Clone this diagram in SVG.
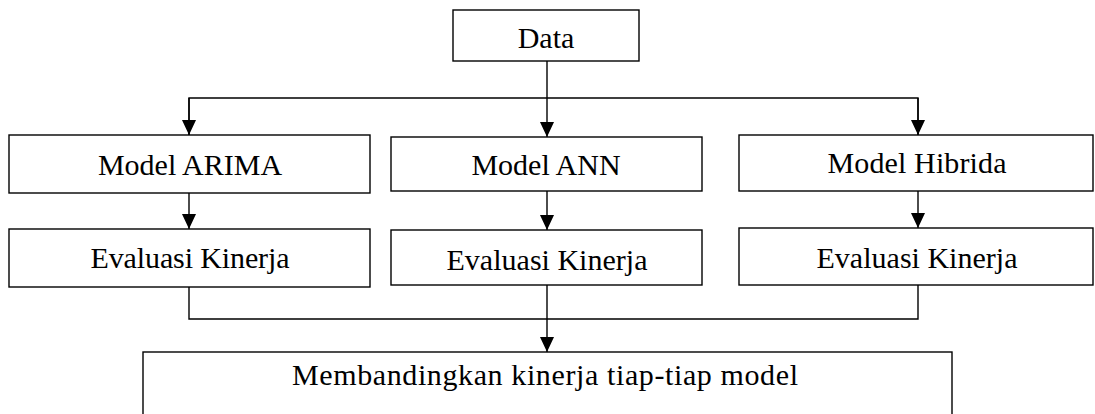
<svg xmlns="http://www.w3.org/2000/svg" width="1095" height="414" viewBox="0 0 1095 414">
  <style>
    .box { fill: #ffffff; stroke: #000000; stroke-width: 1.4; }
    .lbl { font-family: "Liberation Serif", "DejaVu Serif", serif; font-size: 30px; fill: #000000; text-anchor: middle; }
    .wire { fill: none; stroke: #000000; stroke-width: 1.4; }
  </style>
  <defs>
    <marker id="arrow" markerUnits="userSpaceOnUse" markerWidth="16" markerHeight="16" refX="15" refY="7" orient="auto">
      <path d="M0,0 L15,7 L0,14 Z" fill="#000000"/>
    </marker>
  </defs>

  <rect width="1095" height="414" fill="#ffffff"/>

  <!-- connectors -->
  <g id="connectors">
    <line class="wire" x1="547" y1="61" x2="547" y2="137" marker-end="url(#arrow)"/>
    <polyline class="wire" points="189,135 189,98 918,98 918,135"/>
    <line class="wire" x1="189" y1="98" x2="189" y2="135" marker-end="url(#arrow)"/>
    <line class="wire" x1="918" y1="98" x2="918" y2="135" marker-end="url(#arrow)"/>
    <line class="wire" x1="189" y1="193" x2="189" y2="229" marker-end="url(#arrow)"/>
    <line class="wire" x1="547" y1="191" x2="547" y2="230" marker-end="url(#arrow)"/>
    <line class="wire" x1="918" y1="191" x2="918" y2="228" marker-end="url(#arrow)"/>
    <polyline class="wire" points="189,287 189,319 918,319 918,285"/>
    <line class="wire" x1="547" y1="285" x2="547" y2="319"/>
    <line class="wire" x1="547" y1="319" x2="547" y2="352" marker-end="url(#arrow)"/>
  </g>

  <g id="data">
    <rect class="box" x="453" y="10" width="186" height="51"/>
    <text class="lbl" x="546" y="48">Data</text>
  </g>

  <g id="model-arima">
    <rect class="box" x="9" y="135" width="361" height="58"/>
    <text class="lbl" x="190" y="175">Model ARIMA</text>
  </g>

  <g id="model-ann">
    <rect class="box" x="391" y="137" width="311" height="54"/>
    <text class="lbl" x="546" y="175">Model ANN</text>
  </g>

  <g id="model-hibrida">
    <rect class="box" x="739" y="135" width="354" height="56"/>
    <text class="lbl" x="917" y="173" textLength="179">Model Hibrida</text>
  </g>

  <g id="eval-arima">
    <rect class="box" x="9" y="229" width="361" height="58"/>
    <text class="lbl" x="190" y="268" textLength="199">Evaluasi Kinerja</text>
  </g>

  <g id="eval-ann">
    <rect class="box" x="391" y="230" width="311" height="55"/>
    <text class="lbl" x="547" y="270" textLength="201">Evaluasi Kinerja</text>
  </g>

  <g id="eval-hibrida">
    <rect class="box" x="739" y="228" width="354" height="57"/>
    <text class="lbl" x="917" y="268" textLength="201">Evaluasi Kinerja</text>
  </g>

  <g id="compare">
    <rect class="box" x="143" y="352" width="809" height="80"/>
    <text class="lbl" x="545" y="385" textLength="506">Membandingkan kinerja tiap-tiap model</text>
  </g>
</svg>
